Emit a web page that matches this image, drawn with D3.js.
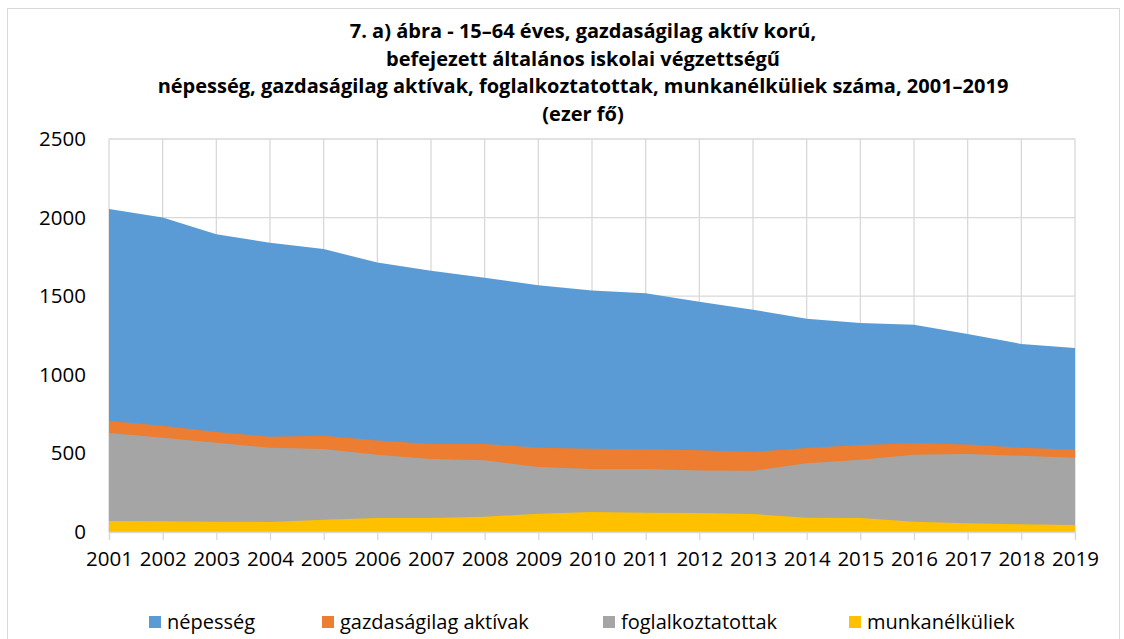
<!DOCTYPE html>
<html>
<head>
<meta charset="utf-8">
<script src="https://cdn.jsdelivr.net/npm/d3@7"></script>
<style>
  body { margin: 0; background: #fff; }
  text { font-family: "Open Sans", "Liberation Sans", sans-serif; fill: #000; }
</style>
</head>
<body>
<div id="chart"></div>
<script>
// data (ezer fő)
var years = [2001, 2002, 2003, 2004, 2005, 2006, 2007, 2008, 2009, 2010,
             2011, 2012, 2013, 2014, 2015, 2016, 2017, 2018, 2019];
var nepesseg = [2055, 2000, 1894, 1840, 1800, 1714, 1662, 1618, 1569, 1537,
                1518, 1465, 1414, 1357, 1330, 1319, 1260, 1196, 1170];
var aktivak = [706, 676, 636, 606, 613, 582, 560, 560, 536, 530,
               526, 520, 509, 534, 553, 564, 556, 536, 524];
var foglalkoztatottak = [630, 600, 568, 536, 528, 491, 464, 456, 413, 401,
                         401, 392, 389, 437, 460, 492, 496, 485, 473];
var munkanelkuliek = [70, 68, 66, 64, 78, 89, 89, 97, 116, 127,
                      123, 121, 114, 91, 89, 66, 55, 49, 45];
var seriesNames = ["népesség", "gazdaságilag aktívak", "foglalkoztatottak", "munkanélküliek"];
var seriesColors = ["#5B9BD5", "#ED7D31", "#A5A5A5", "#FFC000"];
var yTicks = [0, 500, 1000, 1500, 2000, 2500];
var titleLines = ["7. a) ábra - 15\u201364 éves, gazdaságilag aktív korú,",
                  "befejezett általános iskolai végzettségű",
                  "népesség, gazdaságilag aktívak, foglalkoztatottak, munkanélküliek száma, 2001\u20132019",
                  "(ezer fő)"];

var W = 1124, H = 639;
var margin = {top: 139, right: 49, bottom: 107, left: 109},
    width = W - margin.left - margin.right,
    height = H - margin.top - margin.bottom;

var root = d3.select("#chart")
  .append("svg")
    .attr("width", W)
    .attr("height", H);

// chart border
root.append("rect")
  .attr("x", 7.5).attr("y", 8.5)
  .attr("width", 1112).attr("height", 640)
  .attr("fill", "none")
  .attr("stroke", "#d9d9d9");

// title
root.append("g").selectAll("text")
  .data(titleLines)
  .enter()
  .append("text")
    .attr("x", 583)
    .attr("y", function(d, i) { return 38 + i * 27.5; })
    .attr("text-anchor", "middle")
    .style("font-size", "20px")
    .style("font-weight", "bold")
    .text(function(d) { return d; });

var svg = root.append("g")
  .attr("transform", "translate(" + margin.left + "," + margin.top + ")");

var x = d3.scaleLinear()
  .domain([2001, 2019])
  .range([0, width]);

var y = d3.scaleLinear()
  .domain([0, 2500])
  .range([height, 0]);

// gridlines
svg.append("g")
  .selectAll("line.h")
  .data(yTicks)
  .enter()
  .append("line")
    .attr("x1", 0).attr("x2", width)
    .attr("y1", function(d) { return y(d); })
    .attr("y2", function(d) { return y(d); })
    .attr("stroke", "#d9d9d9")
    .attr("stroke-width", 1.3);

svg.append("g")
  .selectAll("line.v")
  .data(years)
  .enter()
  .append("line")
    .attr("x1", function(d) { return x(d); })
    .attr("x2", function(d) { return x(d); })
    .attr("y1", 0).attr("y2", height)
    .attr("stroke", "#d9d9d9")
    .attr("stroke-width", 1.3);

// areas (overlapping, each from zero)
var allSeries = [nepesseg, aktivak, foglalkoztatottak, munkanelkuliek];
var area = d3.area()
  .x(function(d, i) { return x(years[i]); })
  .y0(y(0))
  .y1(function(d) { return y(d); });

svg.selectAll("path.area")
  .data(allSeries)
  .enter()
  .append("path")
    .attr("class", "area")
    .attr("d", area)
    .attr("fill", function(d, i) { return seriesColors[i]; });

// X axis
var xAxis = svg.append("g")
  .attr("transform", "translate(0," + height + ")")
  .call(d3.axisBottom(x).tickValues(years).tickFormat(d3.format("d")).tickSize(8).tickPadding(11));
xAxis.select(".domain").attr("stroke", "#d9d9d9").attr("stroke-width", 1.3);
xAxis.selectAll(".tick line").attr("stroke", "#d9d9d9").attr("stroke-width", 1.3);
xAxis.selectAll("text").style("font-size", "20.5px").attr("fill", "#000");

// Y axis
var yAxis = svg.append("g")
  .call(d3.axisLeft(y).tickValues(yTicks).tickFormat(d3.format("d")).tickSize(0).tickPadding(23));
yAxis.select(".domain").remove();
yAxis.selectAll("text").style("font-size", "20.5px").attr("fill", "#000");

// legend
var legendX = [149, 322, 603, 849];
var legend = root.append("g").selectAll("g")
  .data(seriesNames)
  .enter()
  .append("g")
    .attr("transform", function(d, i) { return "translate(" + legendX[i] + ",616)"; });
legend.append("rect")
  .attr("width", 12).attr("height", 12)
  .attr("fill", function(d, i) { return seriesColors[i]; });
legend.append("text")
  .attr("x", 18).attr("y", 13)
  .style("font-size", "20px")
  .text(function(d) { return d; });
</script>
</body>
</html>
